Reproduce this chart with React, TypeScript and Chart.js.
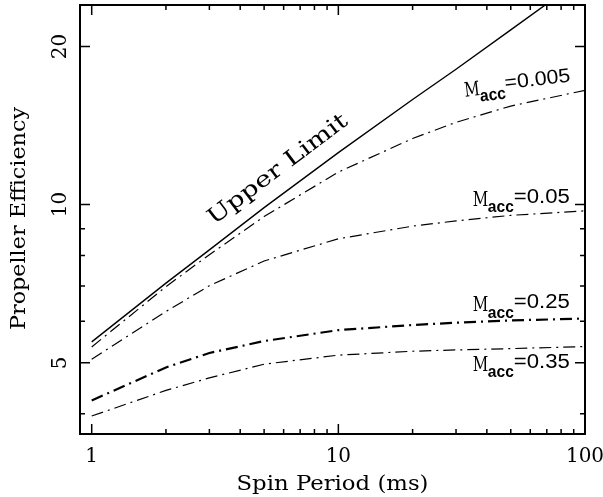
import React, { useEffect, useRef } from "react";
import { Chart, registerables } from "chart.js";

Chart.register(...registerables);

// ---- data ----
const periods = [1, 2, 3, 5, 10, 20, 30, 50, 100];
const upperLimit = [5.48, 7.09, 8.2, 9.87, 12.56, 15.85, 18.1, 21.5, 27.2];
const macc0005 = [5.36, 6.98, 8.03, 9.49, 11.53, 13.36, 14.34, 15.4, 16.5];
const macc005 = [5.08, 6.26, 7.01, 7.81, 8.61, 9.1, 9.31, 9.54, 9.73];
const macc025 = [4.24, 4.9, 5.22, 5.5, 5.77, 5.9, 5.96, 6.02, 6.07];
const macc035 = [3.96, 4.43, 4.68, 4.97, 5.17, 5.26, 5.29, 5.32, 5.37];

const xMajorTicks = [1, 10, 100];
const xMinorTicks = [2, 3, 4, 5, 6, 7, 8, 9, 20, 30, 40, 50, 60, 70, 80, 90];
const yMajorTicks = [5, 10, 20];
const yMinorTicks = [4, 6, 7, 8, 9];

const xTitle = "Spin Period (ms)";
const yTitle = "Propeller Efficiency";
const upperLabel = "Upper Limit";
const seriesLabels = ["=0.005", "=0.05", "=0.25", "=0.35"];
// label anchors in data space (period, efficiency)
const labelP = [32.6, 35.1, 35.1, 35.1];
const labelE = [16.04, 9.94, 6.27, 4.83];
const upperLabelP = 5.7;
const upperLabelE = 11.64;

const SERIF = '"DejaVu Serif", serif';
const SANS = '"Liberation Sans", Arial, sans-serif';

function fitText(ctx: CanvasRenderingContext2D, text: string, x: number, y: number, font: string, width: number, align: CanvasTextAlign) {
  ctx.font = font;
  const w = ctx.measureText(text).width;
  ctx.save();
  ctx.translate(x, y);
  ctx.scale(width / w, 1);
  ctx.textAlign = align;
  ctx.textBaseline = "alphabetic";
  ctx.fillText(text, 0, 0);
  ctx.restore();
}

const decorPlugin = {
  id: "decor",
  beforeDraw(chart: any) {
    const ctx = chart.ctx;
    ctx.save();
    ctx.fillStyle = "#fff";
    ctx.fillRect(0, 0, chart.width, chart.height);
    ctx.restore();
  },
  afterDraw(chart: any) {
    const ctx: CanvasRenderingContext2D = chart.ctx;
    const { left, right, top, bottom } = chart.chartArea;
    const xs = chart.scales.x;
    const ys = chart.scales.y;
    ctx.save();
    ctx.strokeStyle = "#000";
    ctx.fillStyle = "#000";

    // ticks
    ctx.lineWidth = 1.5;
    const major = 10;
    const minor = 5;
    const drawX = (v: number, len: number) => {
      const p = xs.getPixelForValue(v);
      ctx.beginPath();
      ctx.moveTo(p, bottom);
      ctx.lineTo(p, bottom - len);
      ctx.moveTo(p, top);
      ctx.lineTo(p, top + len);
      ctx.stroke();
    };
    const drawY = (v: number, len: number) => {
      const p = ys.getPixelForValue(v);
      ctx.beginPath();
      ctx.moveTo(left, p);
      ctx.lineTo(left + len, p);
      ctx.moveTo(right, p);
      ctx.lineTo(right - len, p);
      ctx.stroke();
    };
    xMajorTicks.forEach((v) => drawX(v, major));
    xMinorTicks.forEach((v) => drawX(v, minor));
    yMajorTicks.forEach((v) => drawY(v, major));
    yMinorTicks.forEach((v) => drawY(v, minor));

    // frame
    ctx.lineWidth = 2;
    ctx.strokeRect(left, top, right - left, bottom - top);

    // tick labels
    ctx.font = `20px ${SERIF}`;
    ctx.textAlign = "center";
    ctx.textBaseline = "alphabetic";
    xMajorTicks.forEach((v) => {
      ctx.fillText(String(v), xs.getPixelForValue(v), bottom + 28);
    });
    yMajorTicks.forEach((v) => {
      ctx.save();
      ctx.translate(left - 14, ys.getPixelForValue(v));
      ctx.rotate(-Math.PI / 2);
      ctx.fillText(String(v), 0, 0);
      ctx.restore();
    });

    // axis titles
    fitText(ctx, xTitle, (left + right) / 2, bottom + 56, `21px ${SERIF}`, 192, "center");
    ctx.save();
    ctx.translate(25, 218.5);
    ctx.rotate(-Math.PI / 2);
    fitText(ctx, yTitle, 0, 0, `21px ${SERIF}`, 223, "center");
    ctx.restore();

    // Upper Limit label
    ctx.save();
    ctx.translate(xs.getPixelForValue(upperLabelP), ys.getPixelForValue(upperLabelE));
    ctx.rotate((-37 * Math.PI) / 180);
    ctx.textBaseline = "middle";
    ctx.font = `22px ${SERIF}`;
    const wU = ctx.measureText(upperLabel).width;
    ctx.scale(169 / wU, 1);
    ctx.textAlign = "center";
    ctx.fillText(upperLabel, 0, 0);
    ctx.restore();

    // M_acc labels
    seriesLabels.forEach((txt, i) => {
      const x = xs.getPixelForValue(labelP[i]);
      const y = ys.getPixelForValue(labelE[i]);
      ctx.save();
      ctx.translate(x, y);
      if (i === 0) ctx.rotate((-6.5 * Math.PI) / 180);
      fitText(ctx, "M", 0, 0, `20px ${SERIF}`, 15.5, "left");
      fitText(ctx, "acc", 15, 6.5, `bold 17px ${SANS}`, 26, "left");
      fitText(ctx, txt, 41, -3, `20px ${SANS}`, i === 0 ? 66 : 56, "left");
      ctx.restore();
    });

    ctx.restore();
  },
};

function toPoints(vals: number[]) {
  return periods.map((p, i) => ({ x: p, y: vals[i] }));
}

export default function App() {
  const ref = useRef<HTMLCanvasElement | null>(null);
  useEffect(() => {
    if (!ref.current) return;
    const dashDot = [12, 5, 2, 5];
    const chart = new Chart(ref.current, {
      type: "line",
      data: {
        datasets: [
          { label: "Upper Limit", data: toPoints(upperLimit), borderColor: "#000", borderWidth: 1.4, pointRadius: 0, tension: 0, fill: false },
          { label: "Macc=0.005", data: toPoints(macc0005), borderColor: "#000", borderWidth: 1.2, borderDash: dashDot, pointRadius: 0, tension: 0, fill: false },
          { label: "Macc=0.05", data: toPoints(macc005), borderColor: "#000", borderWidth: 1.2, borderDash: dashDot, pointRadius: 0, tension: 0, fill: false },
          { label: "Macc=0.25", data: toPoints(macc025), borderColor: "#000", borderWidth: 2.2, borderDash: dashDot, pointRadius: 0, tension: 0, fill: false },
          { label: "Macc=0.35", data: toPoints(macc035), borderColor: "#000", borderWidth: 1.2, borderDash: dashDot, pointRadius: 0, tension: 0, fill: false },
        ],
      },
      options: {
        responsive: false,
        animation: false,
        layout: { padding: { left: 80, right: 18, top: 5, bottom: 63 } },
        scales: {
          x: { type: "logarithmic", min: 0.8965, max: 100, bounds: "data", display: false },
          y: { type: "logarithmic", min: 3.66, max: 23.98, bounds: "data", display: false },
        },
        plugins: { legend: { display: false }, tooltip: { enabled: false } },
      },
      plugins: [decorPlugin],
    } as any);
    return () => chart.destroy();
  }, []);
  return (
    <div style={{ position: "fixed", left: 0, top: 0, width: 603, height: 497 }}>
      <canvas ref={ref} width={603} height={497} style={{ width: 603, height: 497 }} />
    </div>
  );
}
